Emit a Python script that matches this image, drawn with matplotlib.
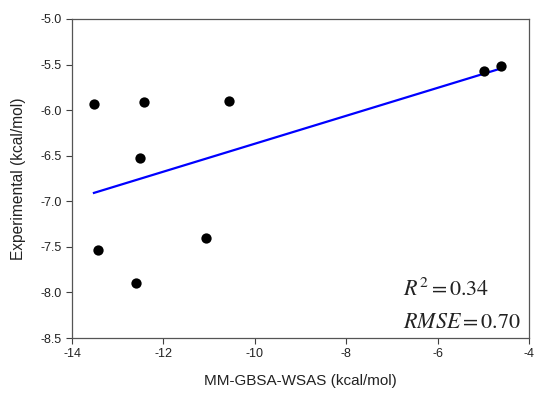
import numpy as np
import matplotlib
matplotlib.use("Agg")
import matplotlib.pyplot as plt

plt.rcParams['font.family'] = ['Liberation Sans', 'DejaVu Sans']
plt.rcParams['mathtext.fontset'] = 'stix'

x_calc = [-13.52, -12.42, -12.51, -13.43, -12.60, -11.07, -10.56, -4.98, -4.61]
y_exp = [-5.93, -5.91, -6.53, -7.53, -7.90, -7.40, -5.90, -5.57, -5.52]
xticks = [-14, -12, -10, -8, -6, -4]
yticks = [-5.0, -5.5, -6.0, -6.5, -7.0, -7.5, -8.0, -8.5]
r2_text = r"$R^2 = 0.34$"
rmse_text = r"$RMSE = 0.70$"

fig = plt.figure(figsize=(5.35, 3.95), dpi=100)
ax = fig.add_axes([0.1346, 0.1443, 0.8542, 0.8076])

ax.scatter(x_calc, y_exp, s=55, color='black', zorder=3, linewidths=0)
slope, icpt = np.polyfit(x_calc, y_exp, 1)
xl = np.array([min(x_calc), max(x_calc)])
ax.plot(xl, slope * xl + icpt, color='#0000FF', lw=1.6, zorder=2)

ax.set_xlim(-14, -4)
ax.set_ylim(-8.5, -5.0)
ax.set_xticks(xticks)
ax.set_yticks(yticks)
ax.set_xticklabels([f"{v:d}" for v in xticks])
ax.set_yticklabels([f"{v:.1f}" for v in yticks])
ax.tick_params(direction='out', length=4, width=0.8, colors='#404040', labelsize=9, labelcolor='#222222')
for s in ax.spines.values():
    s.set_color('#555555')
    s.set_linewidth(0.9)

ax.set_xlabel("MM-GBSA-WSAS (kcal/mol)", fontsize=11, color='#222222', labelpad=10)
ax.set_ylabel("Experimental (kcal/mol)", fontsize=11.2, color='#222222', labelpad=10)

ax.text(-6.757, -8.037, r2_text, fontsize=15.8, ha='left', va='baseline', color='#222222')
ax.text(-6.757, -8.388, rmse_text, fontsize=15.8, ha='left', va='baseline', color='#222222')

fig.savefig("out.png", dpi=100)
